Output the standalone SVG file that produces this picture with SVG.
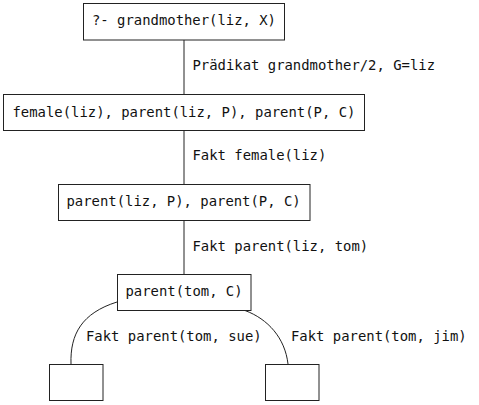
<svg xmlns="http://www.w3.org/2000/svg" width="479" height="405" viewBox="0 0 479 405">
<style>
rect{fill:#fff;stroke:#222;stroke-width:1}
.c{fill:none;stroke:#222;stroke-width:1}
text{font-family:"DejaVu Sans Mono","Liberation Mono",monospace;font-size:13.9px;fill:#111}
</style>
<rect x="0" y="0" width="479" height="405" style="stroke:none"/>
<g id="connectors">
<line class="c" x1="184" y1="40" x2="184" y2="94"/>
<line class="c" x1="184" y1="130" x2="184" y2="184"/>
<line class="c" x1="184" y1="220" x2="184" y2="274"/>
<path class="c" d="M117,302 C82,313 70,334 71,364"/>
<path class="c" d="M245,310.5 C268,319 285,338 288,364"/>
<text x="192.5" y="70">Prädikat grandmother/2, G=liz</text>
<text x="192.5" y="160">Fakt female(liz)</text>
<text x="192.5" y="251">Fakt parent(liz, tom)</text>
<text x="86" y="341">Fakt parent(tom, sue)</text>
<text x="291" y="341">Fakt parent(tom, jim)</text>
</g>
<g id="n1"><rect x="83.5" y="3.5" width="201" height="36.5"/><text x="92" y="25">?- grandmother(liz, X)</text></g>
<g id="n2"><rect x="3.5" y="94.5" width="361" height="36"/><text x="12.5" y="117">female(liz), parent(liz, P), parent(P, C)</text></g>
<g id="n3"><rect x="58.5" y="184.5" width="251.5" height="36"/><text x="66.5" y="206">parent(liz, P), parent(P, C)</text></g>
<g id="n4"><rect x="117.5" y="274.5" width="133.5" height="36"/><text x="125.5" y="296">parent(tom, C)</text></g>
<g id="n5"><rect x="49.5" y="364.5" width="53.5" height="36"/></g>
<g id="n6"><rect x="265.5" y="364.5" width="53.5" height="36"/></g>
</svg>
